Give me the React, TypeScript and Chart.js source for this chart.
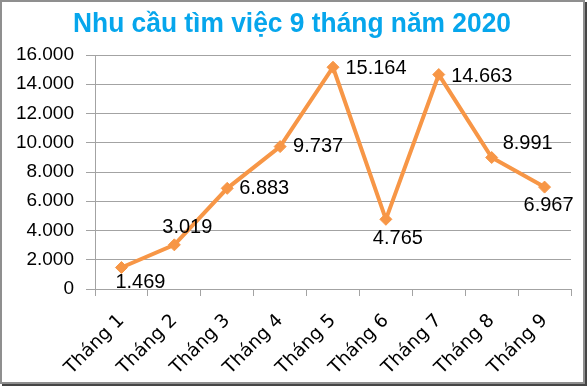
import React, { useEffect, useRef } from "react";
import { Chart, registerables } from "chart.js";

Chart.register(...registerables);

const chartTitle = "Nhu cầu tìm việc 9 tháng năm 2020";
const months = ["Tháng 1", "Tháng 2", "Tháng 3", "Tháng 4", "Tháng 5", "Tháng 6", "Tháng 7", "Tháng 8", "Tháng 9"];
const demand = [1469, 3019, 6883, 9737, 15164, 4765, 14663, 8991, 6967];
const yMin = 0;
const yMax = 16000;
const yStep = 2000;

// data label placement relative to each point (label centre offset, px)
const labelDx = [19, 13, 37, 38, 43, 12, 43, 36, 4];
const labelDy = [15, -17, 0, 0, 1, 19, 2, -14, 18];

const ORANGE = "#F79646";
const TITLE_BLUE = "#06A6EC";
const GRID = "#a3a3a3";
const FONT = "'Liberation Sans', Arial, sans-serif";
const XFONT = "'DejaVu Sans', Verdana, sans-serif";

function fmt(v: number): string {
  return Math.round(v).toString().replace(/\B(?=(\d{3})+(?!\d))/g, ".");
}

const overlayPlugin = {
  id: "overlay",
  afterDatasetsDraw(chart: any) {
    const ctx = chart.ctx;
    const meta = chart.getDatasetMeta(0);
    ctx.save();
    ctx.font = `20px ${FONT}`;
    ctx.fillStyle = "#000";
    ctx.textAlign = "center";
    ctx.textBaseline = "middle";
    meta.data.forEach((pt: any, i: number) => {
      ctx.fillText(fmt(demand[i]), pt.x + labelDx[i], pt.y + labelDy[i]);
    });
    ctx.restore();
  },
  afterDraw(chart: any) {
    const ctx = chart.ctx;
    ctx.save();
    ctx.font = `bold 27px ${FONT}`;
    ctx.fillStyle = TITLE_BLUE;
    ctx.textAlign = "center";
    ctx.textBaseline = "alphabetic";
    ctx.fillText(chartTitle, 290, 30, 438);
    ctx.restore();
  },
};

export default function App() {
  const ref = useRef<HTMLCanvasElement | null>(null);

  useEffect(() => {
    if (!ref.current) return;
    const chart = new Chart(ref.current, {
      type: "line",
      data: {
        labels: months,
        datasets: [
          {
            data: demand,
            borderColor: ORANGE,
            backgroundColor: ORANGE,
            borderWidth: 4,
            pointStyle: "rectRot",
            pointRadius: 6,
            pointBackgroundColor: ORANGE,
            pointBorderColor: ORANGE,
            pointBorderWidth: 1,
            tension: 0,
            fill: false,
          },
        ],
      },
      options: {
        responsive: false,
        animation: false,
        devicePixelRatio: 1,
        layout: { padding: { left: 0, right: 12, top: 53, bottom: 0 } },
        plugins: {
          legend: { display: false },
          title: { display: false },
          tooltip: { enabled: false },
        },
        scales: {
          x: {
            type: "category",
            offset: true,
            grid: {
              display: true,
              drawOnChartArea: false,
              drawTicks: true,
              tickLength: 7,
              offset: true,
              color: GRID,
            },
            border: { display: true, color: GRID, width: 1 },
            ticks: {
              minRotation: 45,
              maxRotation: 45,
              autoSkip: false,
              padding: 14,
              color: "#000",
              font: { family: XFONT, size: 18.5 },
            },
            afterFit(scale: any) {
              scale.height = 93;
            },
          },
          y: {
            min: yMin,
            max: yMax,
            grid: {
              color: GRID,
              drawTicks: true,
              tickLength: 9,
            },
            border: { display: true, color: GRID, width: 1 },
            ticks: {
              stepSize: yStep,
              padding: 12,
              color: "#000",
              font: { family: FONT, size: 19 },
              callback: (v: any) => fmt(Number(v)),
            },
            afterFit(scale: any) {
              scale.width = 93;
            },
          },
        },
      },
      plugins: [overlayPlugin],
    });
    return () => chart.destroy();
  }, []);

  return (
    <div
      style={{
        position: "fixed",
        left: 0,
        top: 0,
        width: 585,
        height: 384,
        boxSizing: "border-box",
        border: "2px solid #8f8f8f",
        boxShadow: "2px 2px 0 #454545",
        background: "#fff",
      }}
    >
      <canvas ref={ref} width={581} height={380} style={{ display: "block", width: 581, height: 380 }} />
    </div>
  );
}
